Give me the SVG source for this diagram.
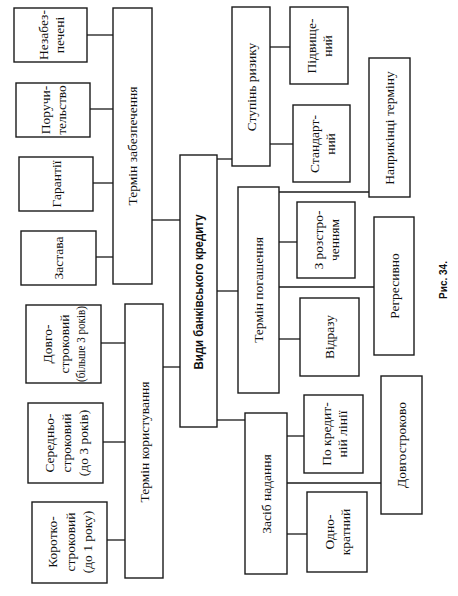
<svg xmlns="http://www.w3.org/2000/svg" width="458" height="596" viewBox="0 0 458 596">
<style>
rect.b{fill:#fff;stroke:#1a1a1a;stroke-width:1.4}
.c line{stroke:#1a1a1a;stroke-width:1.3}
text{font-family:"Liberation Serif","Times New Roman",serif;font-size:13.5px;fill:#111;text-anchor:middle;dominant-baseline:central}
text.m{font-family:"Liberation Sans",Arial,sans-serif;font-weight:bold;font-size:12px}
text.f{font-family:"Liberation Sans",Arial,sans-serif;font-weight:bold;font-size:10px}
</style>
<rect width="458" height="596" fill="#fff"/>
<g class="c" id="connectors">
<line x1="87" y1="35" x2="113" y2="35"/>
<line x1="90" y1="109" x2="113" y2="109"/>
<line x1="93" y1="183" x2="113" y2="183"/>
<line x1="96" y1="257" x2="113" y2="257"/>
<line x1="152" y1="220" x2="180" y2="220"/>
<line x1="101" y1="343" x2="125" y2="343"/>
<line x1="103" y1="442" x2="125" y2="442"/>
<line x1="107" y1="540" x2="125" y2="540"/>
<line x1="163" y1="367" x2="180" y2="367"/>
<line x1="217" y1="159" x2="232" y2="159"/>
<line x1="270" y1="47" x2="290" y2="47"/>
<line x1="270" y1="144" x2="293" y2="144"/>
<line x1="217" y1="291" x2="238" y2="291"/>
<line x1="279" y1="192" x2="369" y2="192"/>
<line x1="279" y1="242" x2="297" y2="242"/>
<line x1="279" y1="287" x2="374" y2="287"/>
<line x1="279" y1="339" x2="300" y2="339"/>
<line x1="217" y1="420" x2="245" y2="420"/>
<line x1="287" y1="436" x2="304" y2="436"/>
<line x1="287" y1="483" x2="381" y2="483"/>
<line x1="287" y1="534" x2="307" y2="534"/>
</g>
<g id="n-nezabez"><rect class="b" x="14" y="8" width="73" height="54"/><text transform="translate(50.5,35) rotate(-90)"><tspan x="0" y="-8">Незабез-</tspan><tspan x="0" y="8">печені</tspan></text></g>
<g id="n-poruch"><rect class="b" x="16" y="83" width="74" height="54"/><text transform="translate(53,110) rotate(-90)"><tspan x="0" y="-8">Поручи-</tspan><tspan x="0" y="8">тельство</tspan></text></g>
<g id="n-garant"><rect class="b" x="19" y="157" width="74" height="54"/><text transform="translate(56,184) rotate(-90)">Гарантії</text></g>
<g id="n-zastava"><rect class="b" x="21" y="231" width="75" height="54"/><text transform="translate(58.5,258) rotate(-90)">Застава</text></g>
<g id="n-zabezp"><rect class="b" x="113" y="8" width="39" height="276"/><text transform="translate(132.5,146) rotate(-90)">Термін забезпечення</text></g>
<g id="n-dovgo"><rect class="b" x="26" y="305" width="75" height="78"/><text transform="translate(63.5,344) rotate(-90)"><tspan x="0" y="-17">Довго-</tspan><tspan x="0" y="0">строковий</tspan><tspan x="0" y="16" textLength="76" lengthAdjust="spacingAndGlyphs">(більше 3 років)</tspan></text></g>
<g id="n-seredn"><rect class="b" x="28" y="403" width="75" height="80"/><text transform="translate(65.5,443) rotate(-90)"><tspan x="0" y="-17">Середньо-</tspan><tspan x="0" y="0">строковий</tspan><tspan x="0" y="17">(до 3 років)</tspan></text></g>
<g id="n-korot"><rect class="b" x="32" y="502" width="75" height="81"/><text transform="translate(69.5,542) rotate(-90)"><tspan x="0" y="-18">Коротко-</tspan><tspan x="0" y="0">строковий</tspan><tspan x="0" y="17">(до 1 року)</tspan></text></g>
<g id="n-korystuv"><rect class="b" x="125" y="304" width="38" height="274"/><text transform="translate(144,442) rotate(-90)">Термін користування</text></g>
<g id="n-vydy"><rect class="b" x="180" y="155" width="37" height="272"/><text class="m" transform="translate(199,292) rotate(-90)" textLength="155" lengthAdjust="spacingAndGlyphs">Види банківського кредиту</text></g>
<g id="n-ryzyk"><rect class="b" x="232" y="7" width="38" height="159"/><text transform="translate(251,87) rotate(-90)">Ступінь ризику</text></g>
<g id="n-pidvysh"><rect class="b" x="290" y="7" width="58" height="77"/><text transform="translate(319,46) rotate(-90)"><tspan x="0" y="-8">Підвище-</tspan><tspan x="0" y="8">ний</tspan></text></g>
<g id="n-standart"><rect class="b" x="293" y="105" width="57" height="77"/><text transform="translate(321.5,144) rotate(-90)"><tspan x="0" y="-8">Стандарт-</tspan><tspan x="0" y="8">ний</tspan></text></g>
<g id="n-naprykinci"><rect class="b" x="369" y="58" width="41" height="139"/><text transform="translate(389.5,128) rotate(-90)">Наприкінці терміну</text></g>
<g id="n-pogash"><rect class="b" x="238" y="187" width="41" height="206"/><text transform="translate(258.5,290) rotate(-90)">Термін погашення</text></g>
<g id="n-rozstr"><rect class="b" x="297" y="202" width="58" height="76"/><text transform="translate(326,240) rotate(-90)"><tspan x="0" y="-8">З розстро-</tspan><tspan x="0" y="8">ченням</tspan></text></g>
<g id="n-regres"><rect class="b" x="374" y="217" width="40" height="138"/><text transform="translate(394,286) rotate(-90)">Регресивно</text></g>
<g id="n-vidrazu"><rect class="b" x="300" y="298" width="59" height="78"/><text transform="translate(329.5,337) rotate(-90)">Відразу</text></g>
<g id="n-zasib"><rect class="b" x="245" y="413" width="42" height="161"/><text transform="translate(266,494) rotate(-90)">Засіб надання</text></g>
<g id="n-kredlin"><rect class="b" x="304" y="395" width="59" height="78"/><text transform="translate(333.5,434) rotate(-90)"><tspan x="0" y="-8">По кредит-</tspan><tspan x="0" y="8">ній лінії</tspan></text></g>
<g id="n-dovgostr"><rect class="b" x="381" y="376" width="41" height="138"/><text transform="translate(401.5,445) rotate(-90)">Довгостроково</text></g>
<g id="n-odno"><rect class="b" x="307" y="492" width="60" height="80"/><text transform="translate(337,532) rotate(-90)"><tspan x="0" y="-8">Одно-</tspan><tspan x="0" y="8">кратний</tspan></text></g>
<text class="f" transform="translate(443,280) rotate(-90)">Рис. 34.</text>
</svg>
